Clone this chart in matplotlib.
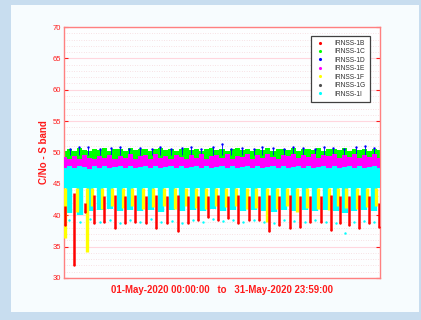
#!/usr/bin/env python3
"""
IRNSS S-band C/No, one month of tracking at 1-min epochs.
Daily dip/peak envelopes per satellite, drawn as bands and columns.
"""

import matplotlib
matplotlib.use("Agg")
import matplotlib.pyplot as plt
from matplotlib.patches import Rectangle
from matplotlib.lines import Line2D
from matplotlib.ticker import MultipleLocator

plt.rcParams["font.family"] = ["Liberation Sans", "DejaVu Sans"]

# half-day grid for the upper envelopes (0 = 01-May 00:00)
HALF_DAYS = [i * 0.5 for i in range(63)]

# IRNSS-1C (green): top band
GRN_TOP = [50.2, 50.5, 50.3, 50.7, 50.4, 50.2, 50.6, 50.4, 50.7, 50.3, 50.5, 50.6, 50.3, 50.7, 50.4, 50.5,
           50.6, 50.3, 50.5, 50.7, 50.4, 50.6, 50.3, 50.5, 50.7, 50.4, 50.6, 50.3, 50.5, 50.7, 50.4, 50.6,
           50.3, 50.5, 50.7, 50.4, 50.6, 50.3, 50.6, 50.4, 50.7, 50.3, 50.5, 50.6, 50.4, 50.7, 50.3, 50.5,
           50.6, 50.4, 50.7, 50.3, 50.5, 50.6, 50.4, 50.7, 50.3, 50.6, 50.4, 50.5, 50.3, 50.6, 50.4]
# IRNSS-1D (blue): band under 1C, with peaks above it
BLU_TOP = [49.2, 48.9, 49.4, 49.0, 49.5, 49.1, 48.9, 49.4, 49.1, 49.5, 49.0, 49.3, 49.1, 49.5, 48.9, 49.3,
           49.4, 49.0, 49.5, 49.1, 49.3, 49.0, 49.5, 49.2, 48.9, 49.4, 49.1, 49.5, 49.0, 49.3, 49.4, 49.1,
           49.5, 49.0, 49.3, 49.2, 49.5, 49.0, 49.4, 49.1, 49.5, 49.2, 49.0, 49.4, 49.3, 49.5, 49.1, 49.4,
           49.2, 49.5, 49.1, 49.4, 49.3, 49.5, 49.1, 49.4, 49.2, 49.5, 49.1, 49.4, 49.2, 49.5, 49.1]
BLU_T = [0.6, 1.5, 2.4, 3.5, 4.6, 5.5, 6.4, 7.5, 8.6, 9.4, 10.5, 11.6, 12.5, 13.4, 14.6, 15.5,
         16.4, 17.5, 18.6, 19.4, 20.5, 21.6, 22.5, 23.4, 24.6, 25.5, 26.4, 27.5, 28.6, 29.5, 30.4]
BLU_PEAK = [50.6, 50.8, 50.9, 50.6, 50.7, 50.9, 50.6, 50.7, 50.6, 50.8, 50.6, 50.7, 50.8, 50.6, 50.9, 51.4,
            50.6, 50.7, 50.6, 50.8, 50.7, 50.6, 50.9, 50.7, 50.6, 50.8, 50.7, 50.6, 50.9, 51.0, 50.7]
# IRNSS-1E (magenta): band with occasional dips
MAG_TOP = [49.3, 48.9, 49.5, 49.0, 49.6, 49.2, 48.9, 49.5, 49.1, 49.6, 49.0, 49.4, 49.2, 49.7, 48.9, 49.5,
           49.6, 49.0, 49.7, 49.2, 49.5, 49.0, 49.6, 49.3, 48.9, 49.6, 49.1, 49.7, 49.0, 49.5, 49.6, 49.1,
           49.7, 49.0, 49.5, 49.3, 49.7, 49.0, 49.6, 49.2, 49.7, 49.3, 49.0, 49.6, 49.4, 49.7, 49.1, 49.6,
           49.3, 49.7, 49.1, 49.6, 49.4, 49.7, 49.1, 49.6, 49.3, 49.7, 49.1, 49.6, 49.3, 49.7, 49.2]
MAG_T = [0.1, 1.0, 1.1, 2.1, 3.6, 5.7, 7.9, 10.6, 13.7, 16.9, 19.8, 22.7, 25.6, 28.6, 30.9]
MAG_LOW = [46.4, 46.6, 46.9, 46.5, 47.2, 47.3, 47.2, 47.3, 47.2, 47.3, 47.2, 47.3, 47.2, 47.3, 46.8]
# IRNSS-1I (cyan): solid band, then daily low-elevation teeth
CYAN_TOP = [47.6, 47.8, 47.5, 47.8, 47.7, 47.4, 47.8, 47.6, 47.8, 47.5, 47.7, 47.8, 47.6, 47.8, 47.5, 47.7,
            47.8, 47.6, 47.8, 47.5, 47.7, 47.8, 47.6, 47.8, 47.5, 47.7, 47.8, 47.6, 47.8, 47.5, 47.7, 47.8,
            47.6, 47.8, 47.5, 47.7, 47.8, 47.6, 47.8, 47.5, 47.7, 47.8, 47.6, 47.8, 47.5, 47.7, 47.8, 47.6,
            47.8, 47.5, 47.7, 47.8, 47.6, 47.8, 47.5, 47.7, 47.8, 47.6, 47.8, 47.5, 47.7, 47.8, 47.6]
CYAN_BOT = 44.3
CYAN_T = [0.5, 1.55, 2.55, 3.5, 4.5, 5.5, 6.5, 7.5, 8.5, 9.55, 10.6, 11.6, 12.65, 13.65, 14.6, 15.6,
          16.6, 17.6, 18.6, 19.6, 20.6, 21.6, 22.6, 23.6, 24.65, 25.7, 26.7, 27.55, 28.45, 29.45, 30.4]
CYAN_LOW = [40.4, 40.0, 40.7, 40.8, 41.0, 40.7, 40.9, 40.6, 40.9, 40.5, 40.8, 40.6, 40.9, 40.7, 41.0, 40.7,
            40.9, 40.6, 40.8, 40.7, 40.5, 40.8, 40.6, 40.9, 40.7, 40.8, 40.6, 40.4, 40.7, 40.9, 40.6]
CYAN_SPECK = [39.2, 38.9, 39.4, 39.0, 39.3, 38.8, 39.2, 38.9, 39.4, 39.0, 39.1, 38.8, 39.3, 39.0, 39.4, 39.1,
              39.2, 38.9, 39.3, 39.0, 38.8, 39.2, 39.1, 38.9, 39.3, 39.0, 38.7, 37.2, 38.9, 39.1, 39.0]
# IRNSS-1F (yellow): daily dips, just ahead of 1B
YEL_T = [0.1, 1.3, 2.25, 2.72, 3.7, 4.75, 5.77, 6.71, 7.75, 8.77, 9.82, 10.89, 11.95, 12.92, 13.9, 14.88,
         15.85, 16.85, 17.92, 18.84, 19.88, 20.85, 21.91, 22.89, 23.85, 24.95, 25.99, 26.87, 27.69, 28.7, 29.68, 30.65]
YEL_LOW = [36.3, 40.5, 34.2, 41.5, 41.0, 41.5, 41.2, 41.5, 41.0, 41.3, 41.5, 41.0, 41.5, 41.2, 41.0, 41.5,
           41.3, 41.5, 41.0, 41.2, 39.0, 41.0, 41.5, 40.5, 41.2, 41.0, 40.8, 41.5, 41.2, 41.0, 41.3, 41.5]
# IRNSS-1B (red): daily dips
RED_T = [0.05, 0.98, 2.1, 2.97, 3.95, 5.0, 6.02, 6.96, 8.0, 9.02, 10.07, 11.14, 12.2, 13.17, 14.15, 15.13,
         16.1, 17.1, 18.17, 19.09, 20.13, 21.1, 22.16, 23.14, 24.1, 25.2, 26.24, 27.12, 27.94, 28.95, 29.93, 30.9]
RED_TOP = [41.5, 43.5, 42.0, 43.2, 43.0, 43.3, 43.0, 43.2, 43.0, 43.3, 43.0, 43.2, 43.0, 43.1, 43.0, 43.2,
           43.0, 43.2, 43.0, 43.1, 43.3, 43.0, 43.2, 43.0, 43.1, 43.0, 43.2, 43.0, 43.1, 43.2, 43.0, 42.0]
RED_LOW = [38.5, 32.0, 40.5, 38.8, 39.0, 38.0, 38.8, 39.0, 38.8, 38.0, 38.8, 37.5, 38.8, 39.3, 39.8, 39.3,
           39.6, 38.8, 39.3, 39.3, 37.5, 38.5, 38.0, 38.2, 39.0, 39.0, 37.7, 38.8, 38.5, 38.0, 38.8, 38.2]

SATS = ["IRNSS-1B", "IRNSS-1C", "IRNSS-1D", "IRNSS-1E", "IRNSS-1F", "IRNSS-1G", "IRNSS-1I"]
COLORS = ["#ff0000", "#00ff00", "#0000ff", "#ff00ff", "#ffff00", "#505050", "#00ffff"]
RED, GRN, BLU, MAG, YEL, GRY, CYN = COLORS

TXT = "#ff1a1a"
AX_RED = "#ff8080"

fig = plt.figure(figsize=(4.21, 3.20), dpi=100)
fig.patch.set_facecolor("#c8ddef")
fig.add_artist(Rectangle((11 / 421, 8 / 320), 408 / 421, 307 / 320, transform=fig.transFigure,
                         facecolor="#f7fcfe", edgecolor="none", zorder=0))

ax = fig.add_axes([64 / 421, 42 / 320, 316 / 421, 251 / 320])
ax.set_facecolor("#fdfeff")

# top group: 1C green, 1D blue, 1E magenta
ax.fill_between(HALF_DAYS, 49.0, GRN_TOP, step="mid", color=GRN, lw=0, zorder=2)
ax.fill_between(HALF_DAYS, 48.4, BLU_TOP, step="mid", color=BLU, lw=0, zorder=2.5)
ax.vlines(BLU_T, 49.6, BLU_PEAK, color=BLU, lw=0.6, zorder=3)
ax.scatter(BLU_T, BLU_PEAK, s=3, color=BLU, lw=0, zorder=3)
ax.fill_between(HALF_DAYS, 47.3, MAG_TOP, step="mid", color=MAG, lw=0, zorder=3.5)
ax.vlines(MAG_T, MAG_LOW, 48.0, color=MAG, lw=2.5, zorder=3.5)

# main band: 1I cyan
ax.fill_between(HALF_DAYS, CYAN_BOT, CYAN_TOP, step="mid", color=CYN, lw=0, zorder=4)
ax.vlines(CYAN_T, CYAN_LOW, 44.5, color=CYN, lw=4.6, zorder=4)
ax.scatter(CYAN_T, CYAN_SPECK, s=3, color=CYN, lw=0, zorder=4)

# low-elevation dips: 1F yellow, 1B red
ax.vlines(YEL_T, YEL_LOW, 44.4, color=YEL, lw=2.4, zorder=5)
ax.vlines(RED_T, RED_LOW, RED_TOP, color=RED, lw=1.8, zorder=6)
ax.scatter(RED_T, RED_LOW, s=3, color=RED, lw=0, zorder=6)

ax.set_xlim(0, 31)
ax.set_ylim(30, 70)
ax.set_xticks([])
ax.yaxis.set_major_locator(MultipleLocator(5))
ax.yaxis.set_minor_locator(MultipleLocator(1))
ax.tick_params(axis="y", which="major", direction="in", length=3, color=TXT, labelcolor=TXT,
               labelsize=5.5, right=True, pad=2)
ax.tick_params(axis="y", which="minor", length=0)
ax.grid(axis="y", which="major", color="#ffd6de", lw=0.8, zorder=1)
ax.grid(axis="y", which="minor", color="#f2c8cc", lw=0.5, ls=(0, (1, 2.5)), zorder=1)
ax.set_axisbelow(True)
for s in ax.spines.values():
    s.set_color(AX_RED)
    s.set_linewidth(1.0)

ax.set_ylabel("C/No - S band", color=TXT, fontsize=7, fontweight="bold", labelpad=3)
ax.set_xlabel("01-May-2020 00:00:00   to   31-May-2020 23:59:00", color=TXT, fontsize=6.9,
              fontweight="bold", labelpad=5)

handles = [Line2D([], [], ls="none", marker=".", ms=2.5, color=c) for c in COLORS]
leg = ax.legend(handles, SATS, loc="upper right", bbox_to_anchor=(0.978, 0.978), fontsize=4.8,
                frameon=True, fancybox=False, edgecolor="#404040", framealpha=1,
                handlelength=1.6, handletextpad=1.3, labelspacing=0.22, borderpad=0.6)
leg.get_frame().set_linewidth(0.9)
for t in leg.get_texts():
    t.set_color("#303030")

fig.savefig("out.png", dpi=100, facecolor=fig.get_facecolor())
